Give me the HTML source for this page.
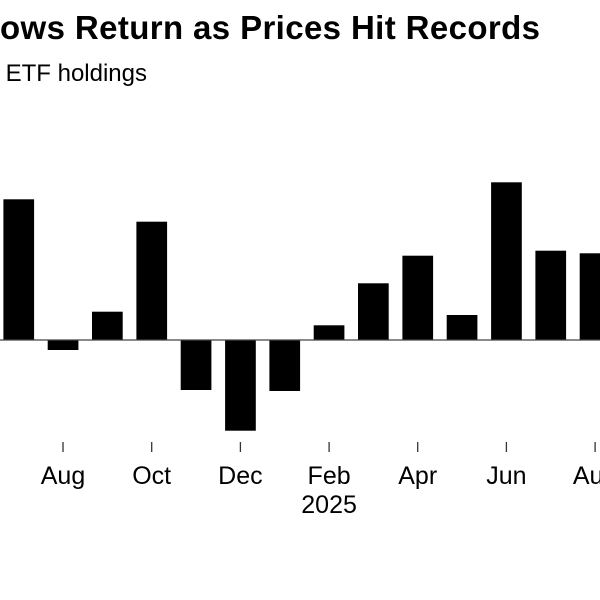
<!DOCTYPE html>
<html>
<head>
<meta charset="utf-8">
<style>
  html, body { margin: 0; padding: 0; background: #ffffff; }
  body { width: 600px; height: 600px; overflow: hidden; }
  svg { display: block; }
  text { font-family: "Liberation Sans", Arial, sans-serif; fill: #000; }
</style>
</head>
<body>
<svg width="600" height="600" viewBox="0 0 600 600" xmlns="http://www.w3.org/2000/svg">
  <rect x="0" y="0" width="600" height="600" fill="#ffffff"/>
  <!-- Title -->
  <text x="-4" y="39" font-size="33" font-weight="bold" text-anchor="end">Gold ETF Infl</text>
  <text x="0" y="39" font-size="33" font-weight="bold" textLength="540" lengthAdjust="spacing">ows Return as Prices Hit Records</text>
  <!-- Subtitle -->
  <text x="147" y="81" font-size="24" text-anchor="end">Monthly change in gold ETF holdings</text>

  <!-- Bars -->
  <g fill="#000">
    <rect x="3.4"   y="199.3" width="30.7" height="140.7"/>
    <rect x="47.7"  y="340"   width="30.7" height="10"/>
    <rect x="92.0"  y="311.7" width="30.7" height="28.3"/>
    <rect x="136.4" y="221.7" width="30.7" height="118.3"/>
    <rect x="180.7" y="340"   width="30.7" height="50"/>
    <rect x="225.1" y="340"   width="30.7" height="90.7"/>
    <rect x="269.4" y="340"   width="30.7" height="51"/>
    <rect x="313.7" y="325.3" width="30.7" height="14.7"/>
    <rect x="358.0" y="283.3" width="30.7" height="56.7"/>
    <rect x="402.4" y="255.7" width="30.7" height="84.3"/>
    <rect x="446.7" y="315"   width="30.7" height="25"/>
    <rect x="491.1" y="182.3" width="30.7" height="157.7"/>
    <rect x="535.4" y="250.7" width="30.7" height="89.3"/>
    <rect x="579.7" y="253.3" width="30.7" height="86.7"/>
  </g>

  <!-- Zero line -->
  <line x1="0" y1="340" x2="600" y2="340" stroke="#444" stroke-width="1.3"/>

  <!-- Ticks -->
  <g stroke="#333" stroke-width="1.3">
    <line x1="63"    y1="442" x2="63"    y2="452"/>
    <line x1="151.7" y1="442" x2="151.7" y2="452"/>
    <line x1="240.4" y1="442" x2="240.4" y2="452"/>
    <line x1="329.1" y1="442" x2="329.1" y2="452"/>
    <line x1="417.7" y1="442" x2="417.7" y2="452"/>
    <line x1="506.4" y1="442" x2="506.4" y2="452"/>
    <line x1="595.1" y1="442" x2="595.1" y2="452"/>
  </g>

  <!-- Tick labels -->
  <g font-size="25" text-anchor="middle">
    <text x="63"    y="484">Aug</text>
    <text x="151.7" y="484">Oct</text>
    <text x="240.4" y="484">Dec</text>
    <text x="329.1" y="484">Feb</text>
    <text x="417.7" y="484">Apr</text>
    <text x="506.4" y="484">Jun</text>
    <text x="595.1" y="484">Aug</text>
    <text x="329.1" y="513">2025</text>
  </g>
</svg>
</body>
</html>
